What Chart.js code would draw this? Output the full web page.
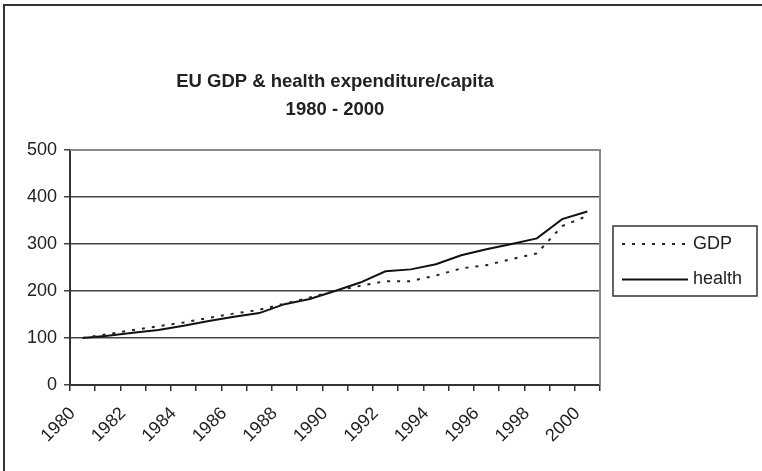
<!DOCTYPE html>
<html>
<head>
<meta charset="utf-8">
<script src="https://cdn.jsdelivr.net/npm/chart.js@4.4.0/dist/chart.umd.min.js"></script>
<style>
    html, body { margin: 0; padding: 0; background: #fff; overflow: hidden; }
    .wrap { position: relative; width: 762px; height: 471px; }
    .wrap canvas { position: absolute; left: 0; top: 0; }
    /* 外框，只露出上边和左边 */
    .frame {
        position: absolute; left: 3px; top: 4px; width: 800px; height: 500px;
        border-left: 2px solid #333; border-top: 2px solid #333;
    }
</style>
</head>
<body>
<div class="wrap">
    <canvas id="gdpChart" width="762" height="471"></canvas>
    <div class="frame"></div>
</div>
<script>
const FONT = '"Liberation Sans", Arial, sans-serif';

const years = ['1980', '1981', '1982', '1983', '1984', '1985', '1986', '1987', '1988', '1989', '1990',
               '1991', '1992', '1993', '1994', '1995', '1996', '1997', '1998', '1999', '2000'];
const gdp = [100, 108, 117, 125, 133, 143, 152, 160, 173, 186, 200,
             211, 221, 221, 233, 248, 255, 268, 280, 338, 360];
const health = [100, 105, 111, 117, 126, 136, 145, 153, 172, 183, 200,
                218, 242, 246, 257, 276, 289, 300, 312, 353, 369];
const yTicks = [0, 100, 200, 300, 400, 500];
const titleLines = ['EU GDP & health expenditure/capita', '1980 - 2000'];

// 绘图区灰色边框 + 右侧图例
const plotFrame = {
    id: 'plotFrame',
    afterDraw(chart) {
        const { ctx, chartArea } = chart;
        ctx.save();
        ctx.strokeStyle = '#8a8a8a';
        ctx.lineWidth = 2;
        ctx.beginPath();
        ctx.moveTo(chartArea.left, chartArea.top);
        ctx.lineTo(chartArea.right, chartArea.top);
        ctx.lineTo(chartArea.right, chartArea.bottom);
        ctx.stroke();

        // 图例框
        const x = chartArea.right + 13;
        const y = 226;
        const w = 144;
        const h = 70;
        ctx.strokeStyle = '#333';
        ctx.lineWidth = 1.5;
        ctx.strokeRect(x, y, w, h);

        const rows = [y + 18, y + 53.5];
        ctx.font = '18px ' + FONT;
        ctx.textBaseline = 'middle';
        ctx.textAlign = 'left';
        chart.data.datasets.forEach((ds, i) => {
            ctx.strokeStyle = ds.borderColor;
            ctx.lineWidth = ds.borderWidth;
            ctx.setLineDash(ds.borderDash || []);
            ctx.beginPath();
            ctx.moveTo(x + 9, rows[i]);
            ctx.lineTo(x + 75, rows[i]);
            ctx.stroke();
            ctx.setLineDash([]);
            ctx.fillStyle = '#222';
            ctx.fillText(ds.label, x + 80, rows[i]);
        });
        ctx.restore();
    }
};

new Chart(document.getElementById('gdpChart'), {
    type: 'line',
    data: {
        labels: years,
        datasets: [{
            label: 'GDP',
            data: gdp,
            borderColor: '#222',
            borderWidth: 2,
            borderDash: [3, 7],
            pointRadius: 0,
            tension: 0,
            fill: false
        }, {
            label: 'health',
            data: health,
            borderColor: '#111',
            borderWidth: 2,
            pointRadius: 0,
            tension: 0,
            fill: false
        }]
    },
    options: {
        responsive: false,
        animation: false,
        layout: {
            padding: { left: 0, right: 162, top: 0, bottom: 0 }
        },
        plugins: {
            legend: { display: false },
            tooltip: { enabled: false },
            title: {
                display: true,
                text: titleLines,
                fullSize: false,
                color: '#222',
                font: { family: FONT, size: 18.5, weight: 'bold', lineHeight: 1.5 },
                padding: { top: 68, bottom: 26.5 }
            }
        },
        scales: {
            x: {
                type: 'category',
                offset: true,
                afterFit: (scale) => { scale.height = 86; },
                grid: {
                    offset: true,
                    drawOnChartArea: false,
                    color: '#333',
                    lineWidth: 1.5,
                    tickLength: 6
                },
                border: { color: '#333', width: 2 },
                ticks: {
                    autoSkip: false,
                    minRotation: 45,
                    maxRotation: 45,
                    padding: 12,
                    labelOffset: -10,
                    color: '#222',
                    font: { family: FONT, size: 18 },
                    callback: function(value, index) {
                        return index % 2 === 0 ? years[index] : '';
                    }
                }
            },
            y: {
                min: yTicks[0],
                max: yTicks[yTicks.length - 1],
                afterFit: (scale) => { scale.width = 70; },
                afterBuildTicks: (scale) => { scale.ticks = yTicks.map(v => ({ value: v })); },
                grid: {
                    color: '#444',
                    lineWidth: 1.5,
                    tickLength: 6
                },
                border: { color: '#333', width: 2 },
                ticks: {
                    padding: 7,
                    color: '#222',
                    font: { family: FONT, size: 18 }
                }
            }
        }
    },
    plugins: [plotFrame]
});
</script>
</body>
</html>
